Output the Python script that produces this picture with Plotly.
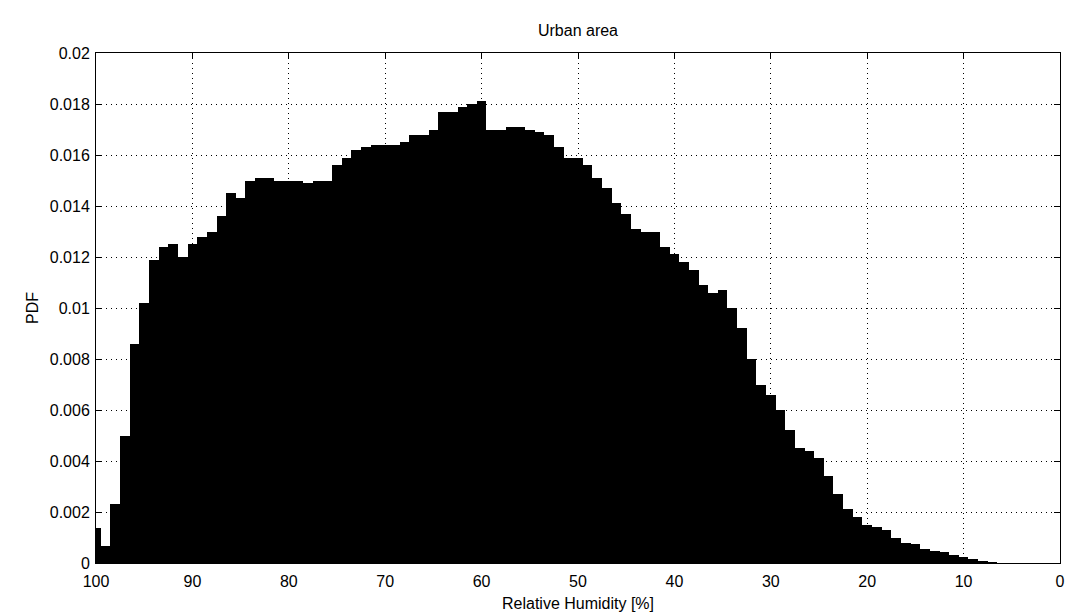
import plotly.graph_objects as go

# Bin centres (relative humidity, %) and PDF values
rh_bins = list(range(100, 6, -1))
pdf_values = [
    0.00137, 0.00067, 0.0023, 0.0050, 0.0086, 0.0102, 0.0119, 0.0124, 0.0125, 0.0120,  # 100-91
    0.0125, 0.0128, 0.0130, 0.0136, 0.0145, 0.0143, 0.0150, 0.0151, 0.0151, 0.0150,    # 90-81
    0.0150, 0.0150, 0.0149, 0.0150, 0.0150, 0.0156, 0.0159, 0.0162, 0.0163, 0.0164,    # 80-71
    0.0164, 0.0164, 0.0165, 0.0168, 0.0168, 0.0170, 0.0177, 0.0177, 0.0179, 0.0180,    # 70-61
    0.0181, 0.0170, 0.0170, 0.0171, 0.0171, 0.0170, 0.0169, 0.0168, 0.0163, 0.0159,    # 60-51
    0.0159, 0.0156, 0.0151, 0.0147, 0.0141, 0.0137, 0.0131, 0.0130, 0.0130, 0.0124,    # 50-41
    0.0121, 0.0118, 0.0115, 0.0109, 0.0106, 0.0107, 0.0100, 0.0092, 0.0080, 0.0070,    # 40-31
    0.0066, 0.0060, 0.0052, 0.0045, 0.0044, 0.0041, 0.0034, 0.0027, 0.0021, 0.0018,    # 30-21
    0.0015, 0.0014, 0.0013, 0.0010, 0.0008, 0.00074, 0.00055, 0.00048, 0.00042, 0.00032,  # 20-11
    0.00022, 0.00016, 0.00005, 0.00002,                                                  # 10-7
]

x_ticks = [100, 90, 80, 70, 60, 50, 40, 30, 20, 10, 0]
y_ticks = [0, 0.002, 0.004, 0.006, 0.008, 0.01, 0.012, 0.014, 0.016, 0.018, 0.02]
y_tick_labels = ["0", "0.002", "0.004", "0.006", "0.008", "0.01", "0.012",
                 "0.014", "0.016", "0.018", "0.02"]

title_text = "Urban area"
x_title = "Relative Humidity [%]"
y_title = "PDF"

FONT = "Liberation Sans, Arial, Helvetica, sans-serif"
FS = 16

fig = go.Figure()
fig.add_trace(go.Bar(
    x=rh_bins,
    y=pdf_values,
    width=1.0,
    marker=dict(color="black", line=dict(width=0)),
    showlegend=False,
))

fig.update_layout(
    width=1069,
    height=612,
    margin=dict(l=96, r=9, t=53, b=49),
    paper_bgcolor="white",
    plot_bgcolor="white",
    bargap=0,
    font=dict(family=FONT, size=FS, color="black"),
    title=dict(text=title_text, x=0.5, xref="paper", xanchor="center",
               y=0.951, yref="container", yanchor="middle",
               font=dict(family=FONT, size=FS, color="black")),
)

fig.update_xaxes(
    range=[100, 0],
    automargin=False,
    tickvals=x_ticks,
    ticktext=[str(v) for v in x_ticks],
    showgrid=True, gridcolor="black", griddash="1px,4px", gridwidth=1,
    showline=True, linecolor="black", linewidth=1, mirror="ticks",
    ticks="inside", ticklen=6, tickcolor="black",
    zeroline=False,
    ticklabelstandoff=4,
    title=dict(text=x_title, standoff=9, font=dict(family=FONT, size=FS)),
)
fig.update_yaxes(
    range=[0, 0.02],
    automargin=False,
    tickvals=y_ticks,
    ticktext=y_tick_labels,
    showgrid=True, gridcolor="black", griddash="1px,4px", gridwidth=1,
    showline=True, linecolor="black", linewidth=1, mirror="ticks",
    ticks="inside", ticklen=6, tickcolor="black",
    zeroline=False,
    ticklabelstandoff=2,
    title=dict(text=y_title, standoff=7, font=dict(family=FONT, size=FS)),
)

fig.write_html("out.html",
               config={"displayModeBar": False},
               post_script="document.body.style.margin='0';document.body.style.overflow='hidden';")
